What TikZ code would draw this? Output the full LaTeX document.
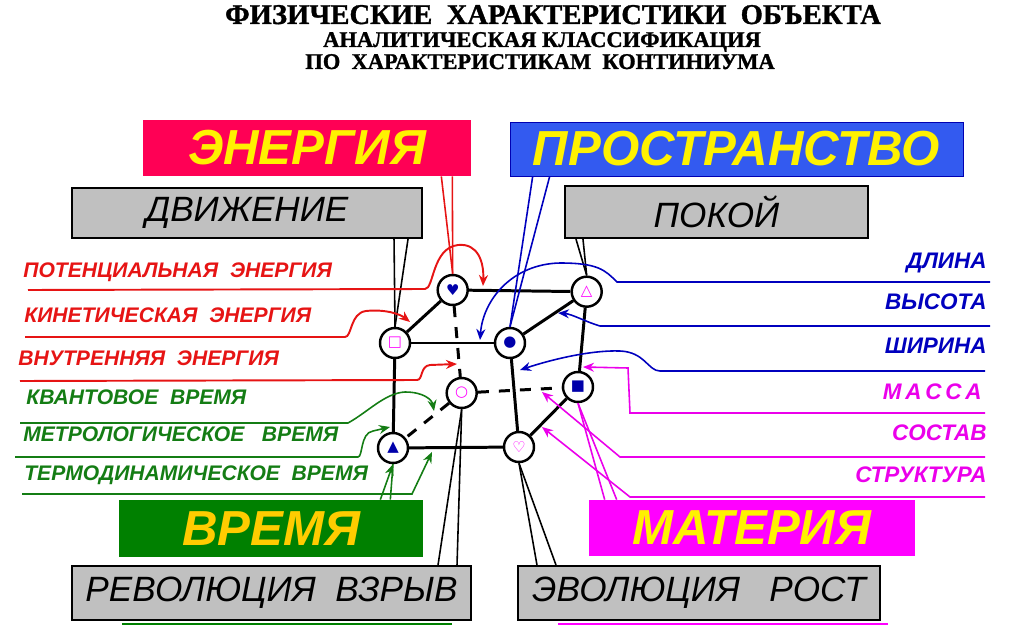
\documentclass[tikz,border=0pt]{standalone}
\usepackage{fontspec}
\setmainfont{Liberation Sans}
\newfontfamily\titlefont{Liberation Serif}[BoldFeatures={FakeBold=1.2}]
\newfontfamily\symfont{DejaVu Sans}
\usetikzlibrary{arrows.meta}

\definecolor{energyred}{RGB}{255,0,85}
\definecolor{spaceblue}{RGB}{51,90,240}
\definecolor{timegreen}{RGB}{0,128,0}
\definecolor{mattermag}{RGB}{255,0,255}
\definecolor{boxgray}{RGB}{192,192,192}
\definecolor{lblred}{RGB}{230,20,20}
\definecolor{lblgreen}{RGB}{20,125,20}
\definecolor{lblblue}{RGB}{0,0,190}
\definecolor{lblmag}{RGB}{235,0,235}
\definecolor{gold}{RGB}{255,204,0}
\definecolor{symblue}{RGB}{0,0,170}

\begin{document}
\begin{tikzpicture}[x=0.02cm, y=-0.02cm,
    vtx/.style={circle, draw, line width=1.4pt, fill=white, minimum size=0.6cm, inner sep=0pt,
      font=\symfont\fontsize{8.5}{8.5}\selectfont},
    bigbox/.style={inner sep=0pt, text=yellow, font=\bfseries\itshape\fontsize{28}{30}\selectfont},
    graybox/.style={draw, line width=1.2pt, fill=boxgray, inner sep=0pt,
      font=\itshape\fontsize{20}{22}\selectfont},
    lbl/.style={inner sep=0pt, font=\bfseries\itshape\fontsize{12}{14}\selectfont},
    rlbl/.style={inner sep=0pt, anchor=east, font=\bfseries\itshape\fontsize{12.8}{14}\selectfont},
    ttl/.style={inner sep=0pt, anchor=base},
    edge/.style={line width=1.7pt},
    dashedge/.style={line width=1.7pt, dash pattern=on 0.22cm off 0.2cm},
    conn/.style={line width=0.9pt},
    arr/.style={-{Stealth[length=2.2mm, width=1.8mm]}}]
    \useasboundingbox (0,0) rectangle (1018,625);

    % заголовок
    \node[ttl, font=\titlefont\bfseries\fontsize{16.3}{17}\selectfont] (title1) at (553,24)
      {ФИЗИЧЕСКИЕ\ \ ХАРАКТЕРИСТИКИ\ \ ОБЪЕКТА};
    \node[ttl, font=\titlefont\bfseries\fontsize{12.8}{14}\selectfont] (title2) at (542,47)
      {АНАЛИТИЧЕСКАЯ КЛАССИФИКАЦИЯ};
    \node[ttl, font=\titlefont\bfseries\fontsize{12.8}{14}\selectfont] (title3) at (540,69)
      {ПО\ \ ХАРАКТЕРИСТИКАМ\ \ КОНТИНИУМА};

    % главные блоки
    \node[bigbox, fill=energyred, minimum width=6.56cm, minimum height=1.12cm] (energy) at (307,148) {ЭНЕРГИЯ};
    \node[bigbox, fill=spaceblue, draw=blue!70!black, minimum width=9.06cm, minimum height=1.08cm] (space) at (736.5,149) {ПРОСТРАНСТВО};
    \node[bigbox, fill=timegreen, text=gold, minimum width=6.08cm, minimum height=1.14cm] (time) at (271,528.5) {ВРЕМЯ};
    \node[bigbox, fill=mattermag, minimum width=6.52cm, minimum height=1.12cm] (matter) at (752,528) {МАТЕРИЯ};

    % серые блоки
    \node[graybox, minimum width=7cm, minimum height=1cm] (motion) at (247,213) {ДВИЖЕНИЕ};
    \node[graybox, minimum width=6.06cm, minimum height=1.04cm] (rest) at (716.5,212) {ПОКОЙ};
    \node[graybox, minimum width=7.98cm, minimum height=1.08cm] (revol) at (271.5,593) {РЕВОЛЮЦИЯ\ \ ВЗРЫВ};
    \node[graybox, minimum width=7.24cm, minimum height=1.08cm] (evol) at (699,593) {ЭВОЛЮЦИЯ\ \ \ РОСТ};

    % кромки блоков внизу
    \draw[timegreen, line width=1.2pt] (122,624) -- (452,624);
    \draw[mattermag, line width=1.2pt] (558,624) -- (888,624);

    % вершины куба
    \node[vtx, text=symblue] (tbl) at (452.7,290) {♥};
    \node[vtx, text=mattermag] (tbr) at (586.7,291.7) {△};
    \node[vtx, text=mattermag] (tfl) at (395,343) {□};
    \node[vtx, text=symblue] (tfr) at (510,343) {●};
    \node[vtx, text=mattermag] (bbl) at (461.7,393) {○};
    \node[vtx, text=symblue] (bbr) at (578,387) {■};
    \node[vtx, text=symblue] (bfl) at (393,448) {▲};
    \node[vtx, text=mattermag] (bfr) at (519,447) {♡};

    % рёбра куба
    \draw[edge] (tfl) -- (tfr);
    \draw[edge] (tfl) -- (tbl);
    \draw[edge] (tbl) -- (tbr);
    \draw[edge] (tbr) -- (tfr);
    \draw[edge] (tfl) -- (bfl);
    \draw[edge] (tfr) -- (bfr);
    \draw[edge] (bfl) -- (bfr);
    \draw[edge] (bfr) -- (bbr);
    \draw[edge] (tbr) -- (bbr);
    \draw[dashedge] (tbl) -- (bbl);
    \draw[dashedge] (bbl) -- (bbr);
    \draw[dashedge] (bbl) -- (bfl);

    % связи блоков с вершинами
    \draw[conn, lblred] ([xshift=-0.6cm]energy.south east) -- (tbl.north);
    \draw[conn, lblred] ([xshift=-0.38cm]energy.south east) -- (tbl.north);
    \draw[conn, lblblue] ([xshift=0.46cm]space.south west) -- (tfr.north);
    \draw[conn, lblblue] ([xshift=0.8cm]space.south west) -- (tfr.north);
    \draw[conn] ([xshift=-0.58cm]motion.south east) -- (tfl.north);
    \draw[conn] ([xshift=-0.3cm]motion.south east) -- (tfl.north);
    \draw[conn] ([xshift=0.24cm]rest.south west) -- (tbr.north);
    \draw[conn] ([xshift=0.38cm]rest.south west) -- (tbr.north);
    \draw[conn] (bbl.south) -- ([xshift=-0.68cm]revol.north east);
    \draw[conn] (bbl.south) -- ([xshift=-0.3cm]revol.north east);
    \draw[conn] (bfr.south) -- ([xshift=0.4cm]evol.north west);
    \draw[conn] (bfr.south) -- ([xshift=0.78cm]evol.north west);
    \draw[conn, lblmag] (bbr.south) -- ([xshift=0.32cm]matter.north west);
    \draw[conn, lblmag] (bbr.south) -- ([xshift=0.56cm]matter.north west);
    \draw[conn, lblgreen, arr] ([xshift=-0.86cm]time.north east) -- (bfl.south);
    \draw[conn, lblgreen] ([xshift=-0.66cm]time.north east) -- (bfl.south);

    % энергия
    \node[lbl, lblred, anchor=west] (pot) at (23,272) {ПОТЕНЦИАЛЬНАЯ\ \ ЭНЕРГИЯ};
    \node[lbl, lblred, anchor=west] (kin) at (24,315) {КИНЕТИЧЕСКАЯ\ \ ЭНЕРГИЯ};
    \node[lbl, lblred, anchor=west] (vnu) at (18,358) {ВНУТРЕННЯЯ\ \ ЭНЕРГИЯ};
    \coordinate (potL) at (28,290);
    \coordinate (potE) at (483,286);
    \coordinate (kinL) at (25,337);
    \coordinate (kinE) at (410,322);
    \coordinate (vnuL) at (20,381);
    \coordinate (vnuE) at (457,364);
    \draw[conn, lblred, line width=1.1pt, arr] (potL) -- (425,289)
      .. controls (434,289) and (432,248) .. (458,245) .. controls (478,243) and (484,262) .. (potE);
    \draw[conn, lblred, line width=1.1pt, arr] (kinL) -- (345,337)
      .. controls (352,337) and (350,313) .. (366,311) .. controls (385,309) and (400,314) .. (kinE);
    \draw[conn, lblred, line width=1.1pt, arr] (vnuL) -- (417,380)
      .. controls (423,380) and (420,366) .. (430,365) -- (vnuE);

    % время
    \node[lbl, lblgreen, anchor=west] (kva) at (26,397) {КВАНТОВОЕ\ \ ВРЕМЯ};
    \node[lbl, lblgreen, anchor=west] (met) at (23,434) {МЕТРОЛОГИЧЕСКОЕ\ \ \ ВРЕМЯ};
    \node[lbl, lblgreen, anchor=west] (ter) at (24,475) {ТЕРМОДИНАМИЧЕСКОЕ\ \ ВРЕМЯ};
    \coordinate (kvaL) at (20,423);
    \coordinate (kvaE) at (434,411);
    \coordinate (metL) at (15,457);
    \coordinate (metE) at (390,427);
    \coordinate (terL) at (22,494);
    \coordinate (terE) at (432,452);
    \draw[conn, lblgreen, arr] (kvaL) -- (348,423)
      .. controls (368,412) and (385,393) .. (405,392) .. controls (424,392) and (432,400) .. (kvaE);
    \draw[conn, lblgreen, arr] (metL) -- (358,457)
      .. controls (363,457) and (360,433) .. (373,431) -- (metE);
    \draw[conn, lblgreen, arr] (terL) -- (412,494) -- (terE);

    % пространство
    \node[rlbl, lblblue] (dli) at (987,263) {ДЛИНА};
    \node[rlbl, lblblue] (vys) at (987,302) {ВЫСОТА};
    \node[rlbl, lblblue] (shi) at (987,346) {ШИРИНА};
    \coordinate (dliR) at (990,282);
    \coordinate (dliE) at (480,340);
    \coordinate (vysR) at (990,326);
    \coordinate (vysE) at (558,313);
    \coordinate (shiR) at (985,371);
    \coordinate (shiE) at (520,370);
    \draw[conn, lblblue, arr] (dliR) -- (617,282)
      .. controls (605,270) and (598,263) .. (560,263) .. controls (512,264) and (483,300) .. (dliE);
    \draw[conn, lblblue, arr] (vysR) -- (600,326)
      .. controls (586,322) and (572,314) .. (vysE);
    \draw[conn, lblblue, arr] (shiR) -- (660,371)
      .. controls (648,371) and (645,352) .. (620,351) .. controls (590,350) and (550,360) .. (shiE);

    % материя
    \node[rlbl, lblmag] (mas) at (982,392) {М\,А\,С\,С\,А};
    \node[rlbl, lblmag] (sos) at (987,433) {СОСТАВ};
    \node[rlbl, lblmag] (str) at (987,475) {СТРУКТУРА};
    \coordinate (masR) at (985,413);
    \coordinate (masE) at (583,367);
    \coordinate (sosR) at (985,457);
    \coordinate (sosE) at (542,392);
    \coordinate (strR) at (985,497);
    \coordinate (strE) at (542,427);
    \draw[conn, lblmag, arr] (masR) -- (630,413) -- (628,368) -- (masE);
    \draw[conn, lblmag, arr] (sosR) -- (620,457) -- (sosE);
    \draw[conn, lblmag, arr] (strR) -- (630,497) -- (strE);
\end{tikzpicture}
\end{document}
